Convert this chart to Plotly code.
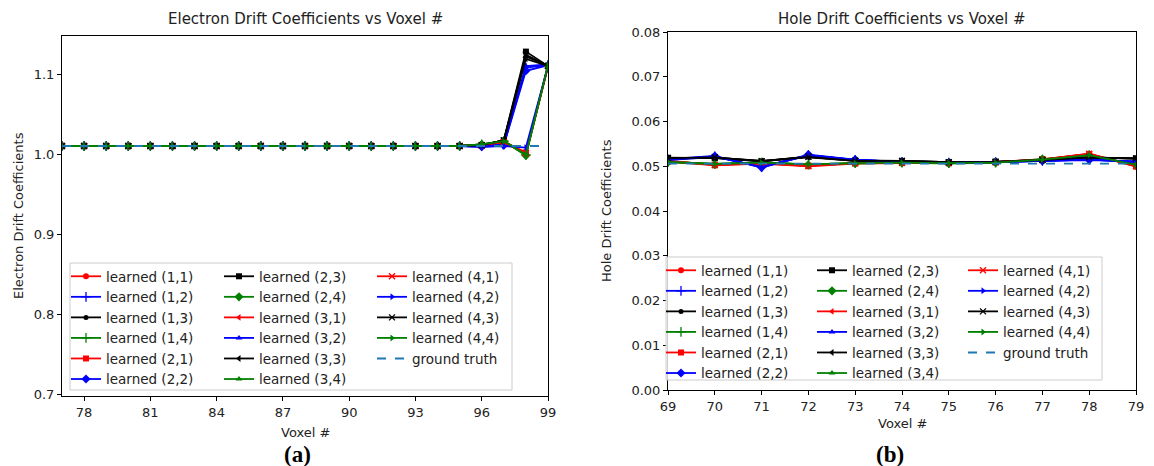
import plotly.graph_objects as go

W, H = 1154, 466

# ---------------- data ----------------
voxel_e = list(range(77, 100))
voxel_h = list(range(69, 80))

# electron drift coefficients, voxels 77..99
e_11 = [1.010, 1.010, 1.010, 1.010, 1.010, 1.010, 1.010, 1.010, 1.010, 1.010, 1.010, 1.010, 1.010, 1.010, 1.010, 1.010, 1.010, 1.010, 1.010, 1.011, 1.016, 1.001, 1.110]
e_12 = [1.010, 1.010, 1.010, 1.010, 1.010, 1.010, 1.010, 1.010, 1.010, 1.010, 1.010, 1.010, 1.010, 1.010, 1.010, 1.010, 1.010, 1.010, 1.010, 1.010, 1.012, 1.108, 1.111]
e_13 = [1.010, 1.010, 1.010, 1.010, 1.010, 1.010, 1.010, 1.010, 1.010, 1.010, 1.010, 1.010, 1.010, 1.010, 1.010, 1.010, 1.010, 1.010, 1.010, 1.011, 1.017, 1.122, 1.110]
e_14 = [1.010, 1.010, 1.010, 1.010, 1.010, 1.010, 1.010, 1.010, 1.010, 1.010, 1.010, 1.010, 1.010, 1.010, 1.010, 1.010, 1.010, 1.010, 1.010, 1.012, 1.016, 0.999, 1.111]
e_21 = [1.010, 1.010, 1.010, 1.010, 1.010, 1.010, 1.010, 1.010, 1.010, 1.010, 1.010, 1.010, 1.010, 1.010, 1.010, 1.010, 1.010, 1.010, 1.010, 1.011, 1.015, 1.002, 1.110]
e_22 = [1.010, 1.010, 1.010, 1.010, 1.010, 1.010, 1.010, 1.010, 1.010, 1.010, 1.010, 1.010, 1.010, 1.010, 1.010, 1.010, 1.010, 1.010, 1.010, 1.009, 1.011, 1.104, 1.111]
e_23 = [1.010, 1.010, 1.010, 1.010, 1.010, 1.010, 1.010, 1.010, 1.010, 1.010, 1.010, 1.010, 1.010, 1.010, 1.010, 1.010, 1.010, 1.010, 1.010, 1.011, 1.017, 1.128, 1.110]
e_24 = [1.010, 1.010, 1.010, 1.010, 1.010, 1.010, 1.010, 1.010, 1.010, 1.010, 1.010, 1.010, 1.010, 1.010, 1.010, 1.010, 1.010, 1.010, 1.010, 1.012, 1.016, 0.998, 1.110]
e_31 = [1.010, 1.010, 1.010, 1.010, 1.010, 1.010, 1.010, 1.010, 1.010, 1.010, 1.010, 1.010, 1.010, 1.010, 1.010, 1.010, 1.010, 1.010, 1.010, 1.011, 1.015, 1.000, 1.110]
e_32 = [1.010, 1.010, 1.010, 1.010, 1.010, 1.010, 1.010, 1.010, 1.010, 1.010, 1.010, 1.010, 1.010, 1.010, 1.010, 1.010, 1.010, 1.010, 1.010, 1.010, 1.012, 1.110, 1.112]
e_33 = [1.010, 1.010, 1.010, 1.010, 1.010, 1.010, 1.010, 1.010, 1.010, 1.010, 1.010, 1.010, 1.010, 1.010, 1.010, 1.010, 1.010, 1.010, 1.010, 1.011, 1.017, 1.119, 1.110]
e_34 = [1.010, 1.010, 1.010, 1.010, 1.010, 1.010, 1.010, 1.010, 1.010, 1.010, 1.010, 1.010, 1.010, 1.010, 1.010, 1.010, 1.010, 1.010, 1.010, 1.012, 1.016, 1.000, 1.110]
e_41 = [1.010, 1.010, 1.010, 1.010, 1.010, 1.010, 1.010, 1.010, 1.010, 1.010, 1.010, 1.010, 1.010, 1.010, 1.010, 1.010, 1.010, 1.010, 1.010, 1.011, 1.015, 1.001, 1.110]
e_42 = [1.010, 1.010, 1.010, 1.010, 1.010, 1.010, 1.010, 1.010, 1.010, 1.010, 1.010, 1.010, 1.010, 1.010, 1.010, 1.010, 1.010, 1.010, 1.010, 1.009, 1.010, 1.008, 1.110]
e_43 = [1.010, 1.010, 1.010, 1.010, 1.010, 1.010, 1.010, 1.010, 1.010, 1.010, 1.010, 1.010, 1.010, 1.010, 1.010, 1.010, 1.010, 1.010, 1.010, 1.011, 1.017, 1.124, 1.110]
e_44 = [1.010, 1.010, 1.010, 1.010, 1.010, 1.010, 1.010, 1.010, 1.010, 1.010, 1.010, 1.010, 1.010, 1.010, 1.010, 1.010, 1.010, 1.010, 1.010, 1.012, 1.016, 0.999, 1.111]
e_truth = [1.010] * len(voxel_e)

# hole drift coefficients, voxels 69..79
h_11 = [0.0512, 0.0503, 0.0507, 0.0501, 0.0507, 0.0508, 0.0507, 0.0509, 0.0515, 0.0528, 0.0499]
h_12 = [0.0515, 0.0522, 0.0498, 0.0525, 0.0514, 0.0510, 0.0508, 0.0509, 0.0512, 0.0515, 0.0510]
h_13 = [0.0518, 0.0519, 0.0512, 0.0521, 0.0512, 0.0512, 0.0509, 0.0510, 0.0514, 0.0520, 0.0517]
h_14 = [0.0510, 0.0505, 0.0508, 0.0504, 0.0507, 0.0508, 0.0507, 0.0508, 0.0515, 0.0525, 0.0503]
h_21 = [0.0511, 0.0502, 0.0506, 0.0500, 0.0506, 0.0507, 0.0507, 0.0509, 0.0516, 0.0527, 0.0500]
h_22 = [0.0516, 0.0523, 0.0497, 0.0526, 0.0515, 0.0510, 0.0508, 0.0510, 0.0512, 0.0514, 0.0511]
h_23 = [0.0519, 0.0518, 0.0511, 0.0522, 0.0513, 0.0512, 0.0509, 0.0510, 0.0514, 0.0519, 0.0518]
h_24 = [0.0509, 0.0504, 0.0509, 0.0503, 0.0506, 0.0508, 0.0506, 0.0508, 0.0516, 0.0524, 0.0504]
h_31 = [0.0512, 0.0503, 0.0507, 0.0502, 0.0507, 0.0508, 0.0507, 0.0509, 0.0515, 0.0527, 0.0500]
h_32 = [0.0514, 0.0521, 0.0499, 0.0524, 0.0514, 0.0510, 0.0508, 0.0509, 0.0512, 0.0516, 0.0510]
h_33 = [0.0517, 0.0519, 0.0512, 0.0520, 0.0512, 0.0511, 0.0509, 0.0510, 0.0513, 0.0520, 0.0517]
h_34 = [0.0510, 0.0505, 0.0508, 0.0504, 0.0507, 0.0507, 0.0507, 0.0508, 0.0515, 0.0525, 0.0503]
h_41 = [0.0511, 0.0503, 0.0506, 0.0501, 0.0507, 0.0508, 0.0507, 0.0509, 0.0515, 0.0528, 0.0500]
h_42 = [0.0515, 0.0522, 0.0498, 0.0525, 0.0514, 0.0510, 0.0508, 0.0509, 0.0512, 0.0515, 0.0510]
h_43 = [0.0518, 0.0520, 0.0511, 0.0521, 0.0512, 0.0512, 0.0509, 0.0510, 0.0514, 0.0520, 0.0517]
h_44 = [0.0510, 0.0505, 0.0508, 0.0504, 0.0507, 0.0508, 0.0507, 0.0508, 0.0515, 0.0525, 0.0503]
h_truth = [0.0506] * len(voxel_h)

labels = ["learned (1,1)", "learned (1,2)", "learned (1,3)", "learned (1,4)",
          "learned (2,1)", "learned (2,2)", "learned (2,3)", "learned (2,4)",
          "learned (3,1)", "learned (3,2)", "learned (3,3)", "learned (3,4)",
          "learned (4,1)", "learned (4,2)", "learned (4,3)", "learned (4,4)"]
electron_series = [e_11, e_12, e_13, e_14, e_21, e_22, e_23, e_24,
                   e_31, e_32, e_33, e_34, e_41, e_42, e_43, e_44]
hole_series = [h_11, h_12, h_13, h_14, h_21, h_22, h_23, h_24,
               h_31, h_32, h_33, h_34, h_41, h_42, h_43, h_44]

# ---------------- styles ----------------
RED, BLUE, BLACK, GREEN = "#ff0000", "#0000ff", "#000000", "#008000"
TRUTH = "#1f77b4"
colors = [RED, BLUE, BLACK, GREEN] * 4
symbols = ["circle", "cross-thin", "circle", "cross-thin",
           "square", "diamond", "square", "diamond",
           "triangle-left", "triangle-up", "triangle-left", "triangle-up",
           "x-thin", "triangle-right", "x-thin", "triangle-right"]
sizes = [6, 7, 5, 7, 6, 7, 6, 7, 6, 6, 6, 6, 6, 6, 6, 6]

TXT = "#222222"
FONT = "DejaVu Sans"


def px_x(p):
    return p / W


def px_y(p):
    return 1 - p / H


fig = go.Figure()


def add_panel(xs, series, truth, xa, ya, legend_ids):
    for i, (lab, ys) in enumerate(zip(labels, series)):
        thin = symbols[i].endswith("-thin")
        fig.add_trace(go.Scatter(
            x=xs, y=ys, name=lab, mode="lines+markers",
            xaxis=xa, yaxis=ya, legend=legend_ids[i // 6],
            line=dict(color=colors[i], width=1.8),
            marker=dict(symbol=symbols[i], size=sizes[i], color=colors[i],
                        line=dict(color=colors[i], width=1.3 if thin else 0)),
        ))
    fig.add_trace(go.Scatter(
        x=xs, y=truth, name="ground truth", mode="lines",
        xaxis=xa, yaxis=ya, legend=legend_ids[2],
        line=dict(color=TRUTH, width=1.8, dash="dash"),
    ))


add_panel(voxel_e, electron_series, e_truth, "x", "y", ["legend", "legend2", "legend3"])
add_panel(voxel_h, hole_series, h_truth, "x2", "y2", ["legend4", "legend5", "legend6"])

axis_common = dict(showgrid=False, zeroline=False, showline=True, mirror=True,
                   linecolor="black", linewidth=1, ticks="outside", ticklen=4,
                   tickcolor="black", automargin=False,
                   tickfont=dict(family=FONT, size=13, color=TXT))

fig.update_layout(
    width=W, height=H,
    margin=dict(l=0, r=0, t=0, b=0),
    paper_bgcolor="white", plot_bgcolor="white",
    font=dict(family=FONT, color=TXT),
    xaxis=dict(domain=[px_x(62), px_x(548)], range=[77, 99], tickvals=list(range(78, 100, 3)),
               anchor="y", **axis_common),
    yaxis=dict(domain=[px_y(396), px_y(36)], range=[0.6975, 1.1475],
               tickvals=[0.7, 0.8, 0.9, 1.0, 1.1], ticktext=["0.7", "0.8", "0.9", "1.0", "1.1"],
               anchor="x", **axis_common),
    xaxis2=dict(domain=[px_x(668), px_x(1136)], range=[69, 79], tickvals=list(range(69, 80)),
                anchor="y2", **axis_common),
    yaxis2=dict(domain=[px_y(390), px_y(32)], range=[0, 0.08],
                tickvals=[0.0, 0.01, 0.02, 0.03, 0.04, 0.05, 0.06, 0.07, 0.08],
                tickformat=".2f", anchor="x2", **axis_common),
    showlegend=True,
)

legend_common = dict(bgcolor="rgba(0,0,0,0)", borderwidth=0, orientation="v",
                     xanchor="left", yanchor="top", tracegroupgap=0, itemwidth=30,
                     font=dict(family=FONT, size=13.5, color=TXT), itemclick=False)
legend_cols = {
    "legend": (66, 261), "legend2": (219, 261), "legend3": (372, 261),
    "legend4": (661, 255), "legend5": (812, 255), "legend6": (963, 255),
}
for name, (lx, ly) in legend_cols.items():
    fig.update_layout({name: dict(x=px_x(lx), y=px_y(ly), **legend_common)})

# legend frames
for (x0, y0, x1, y1) in [(70, 263, 512, 390), (666, 257, 1102, 380)]:
    fig.add_shape(type="rect", xref="paper", yref="paper",
                  x0=px_x(x0), x1=px_x(x1), y0=px_y(y1), y1=px_y(y0),
                  fillcolor="rgba(255,255,255,0.8)", line=dict(color="#cccccc", width=1),
                  layer="above")

# titles and labels
texts = [
    ("Electron Drift Coefficients vs Voxel #", 305, 19, 15, 0),
    ("Hole Drift Coefficients vs Voxel #", 902, 19, 15, 0),
    ("Voxel #", 305, 432, 13, 0),
    ("Voxel #", 902, 423, 13, 0),
    ("Electron Drift Coefficients", 18, 216, 13, -90),
    ("Hole Drift Coefficients", 607, 211, 13, -90),
]
for t, x, y, s, ang in texts:
    fig.add_annotation(text=t, x=px_x(x), y=px_y(y), xref="paper", yref="paper",
                       showarrow=False, textangle=ang, xanchor="center", yanchor="middle",
                       font=dict(family=FONT, size=s, color=TXT))
for t, x in [("<b>(a)</b>", 297), ("<b>(b)</b>", 890)]:
    fig.add_annotation(text=t, x=px_x(x), y=px_y(454), xref="paper", yref="paper",
                       showarrow=False, xanchor="center", yanchor="middle",
                       font=dict(family="Liberation Serif", size=23, color="black"))

fig.write_html("out.html")
